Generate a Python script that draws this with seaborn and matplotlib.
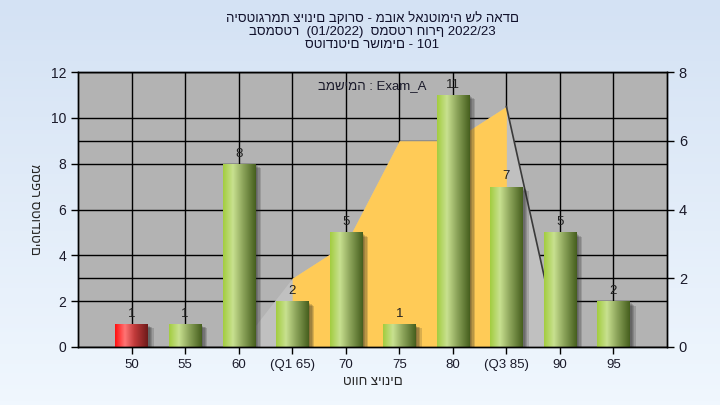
import numpy as np
import pandas as pd
import seaborn as sns
import matplotlib.pyplot as plt
import matplotlib.patheffects as pe
from matplotlib.colors import to_rgb

# chart data
grade_labels = ['50', '55', '60', '(Q1 65)', '70', '75', '80', '(Q3 85)', '90', '95']
students = [1, 1, 8, 2, 5, 1, 11, 7, 5, 2]
curve = [0, 0, 0, 2, 3, 6, 6, 7, 0, 0]      # read on the right axis
q1_idx, q3_idx = 3, 7
bar_colors = ['#e82020'] + ['#8fba3c'] * 9

title = ('היסטוגרמת ציונים בקורס - מבוא לאנטומיה של האדם\n'
         'בסמסטר  (01/2022)  סמסטר חורף 2022/23\n'
         'סטודנטים רשומים - 101')
exam_text = 'במשימה : Exam_A'
xlabel = 'טווח ציונים'
ylabel = 'מספר סטודנטים'

sns.set_style('ticks')
plt.rcParams['font.family'] = ['Liberation Sans', 'DejaVu Sans']


def gradient(stops, n=80):
    pos = [s[0] for s in stops]
    cols = np.array([to_rgb(s[1]) for s in stops])
    t = np.linspace(0, 1, n)
    return np.stack([np.interp(t, pos, cols[:, i]) for i in range(3)], axis=-1)[None, :, :]


green_grad = gradient([(0, '#a3cd40'), (0.3, '#c8e190'), (0.6, '#8ea65c'), (1, '#465f1e')])
red_grad = gradient([(0, '#ff1010'), (0.3, '#ff7575'), (0.6, '#c03a3a'), (1, '#6e1a1a')])

df = pd.DataFrame({'grade': grade_labels, 'students': students})

fig = plt.figure(figsize=(7.2, 4.05), dpi=100)

# light blue background
top_c, bot_c = np.array(to_rgb('#d4e2f4')), np.array(to_rgb('#f0f7fe'))
bg = fig.add_axes([0, 0, 1, 1], zorder=-10)
bg.imshow(top_c + np.linspace(0, 1, 100)[:, None, None] * (bot_c - top_c),
          aspect='auto', extent=[0, 1, 0, 1])
bg.axis('off')

ax = fig.add_axes([78 / 720, 1 - 347 / 405, (667 - 78) / 720, (347 - 72) / 405])
ax.set_facecolor('#b3b3b3')

sns.barplot(data=df, x='grade', y='students', hue='grade', palette=bar_colors,
            dodge=False, legend=False, width=0.6, ax=ax, saturation=1)

ax2 = ax.twinx()
ax2.set_ylim(0, 8)
ax2.set_yticks(range(0, 9, 2))
ax2.grid(False)

x = np.arange(len(grade_labels))
ax.fill_between(x, curve, color='#c0c0c0', lw=0, transform=ax2.transData, zorder=0.7)
ax.fill_between(x[q1_idx:q3_idx + 1], curve[q1_idx:q3_idx + 1], color='#ffcb57', lw=0,
                transform=ax2.transData, zorder=0.8)
ax.plot(x[q3_idx:q3_idx + 2], curve[q3_idx:q3_idx + 2], color='#3a3a3a', lw=1.2,
        transform=ax2.transData, zorder=0.9)

# cylinder look on the bars, with a soft shadow
shadow = [pe.SimplePatchShadow(offset=(o, -0.7 * o), shadow_rgbFace='#202020', alpha=0.17)
          for o in (1.5, 2.5, 3.5, 4.5)]
for cont in ax.containers:
    for p in cont.patches:
        r, g, b, _ = p.get_facecolor()
        grad = red_grad if r > g else green_grad
        p.set_zorder(2)
        p.set_linewidth(0)
        p.set_path_effects(shadow + [pe.Normal()])
        im = ax.imshow(grad, aspect='auto', zorder=2.5,
                       extent=[p.get_x(), p.get_x() + p.get_width(), 0, p.get_height()])
        im.set_clip_path(p)
    ax.bar_label(cont, padding=3, fontsize=9.5, color='#202020', zorder=3)

ax.set_xlim(-1, len(grade_labels))
ax.set_ylim(0, 12)
ax.set_yticks(range(0, 13, 2))
ax.set_yticks([v * 12 / 8 for v in ax2.get_yticks()], minor=True)
ax.set_axisbelow(True)
ax.grid(True, which='both', color='black', lw=1)
ax.tick_params(axis='y', which='minor', length=0)
ax.tick_params(axis='both', which='major', length=5, width=1, color='black', labelsize=10, labelcolor='#1a1a2a')
ax.tick_params(axis='x', labelsize=9.5)
ax2.tick_params(axis='y', length=5, width=1, color='black', labelsize=10.5, labelcolor='#1a1a2a')

for a in (ax, ax2):
    for s in a.spines.values():
        s.set_visible(True)
        s.set_color('black')
        s.set_linewidth(1)

ax.set_xlabel(xlabel, fontsize=9.5, labelpad=4)
ax.set_ylabel(ylabel, fontsize=9.5, rotation=270, va='center', ha='center')
ax.yaxis.set_label_coords(-44 / 589, 0.5)
ax.text(0.5, 0.95, exam_text, transform=ax.transAxes, ha='center', va='center', fontsize=9.5,
        color='#1a1a2a', zorder=4)

fig.text(372 / 720, 1 - 12 / 405, title, ha='center', va='top', fontsize=9.5, linespacing=1.12,
         color='#10102a')

fig.savefig('out.png', dpi=100)
